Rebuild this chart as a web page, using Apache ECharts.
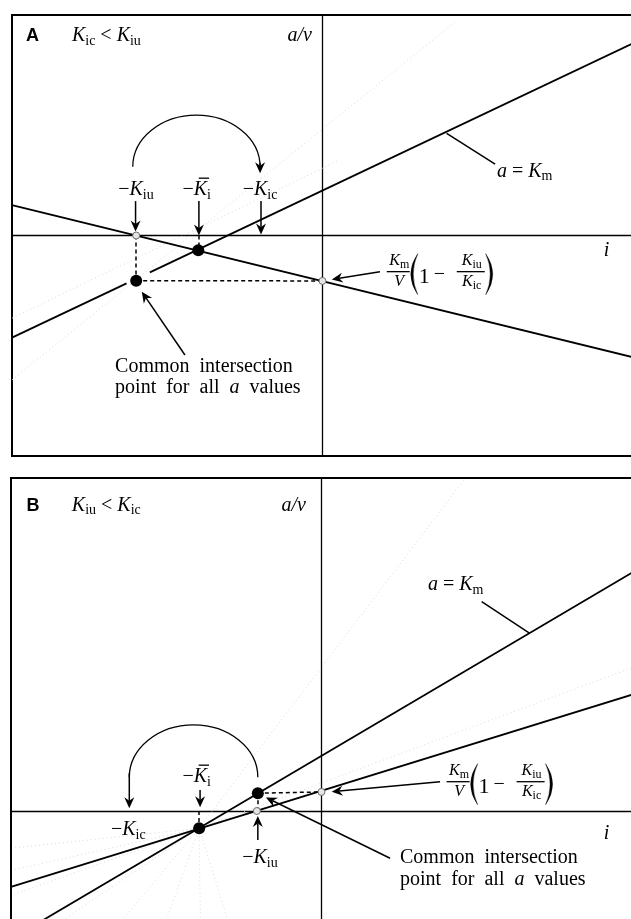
<!DOCTYPE html>
<html>
<head>
<meta charset="utf-8">
<title>a/v against i plots</title>
<script src="https://cdn.jsdelivr.net/npm/echarts@6.0.0/dist/echarts.min.js"></script>
<style>
  html, body { margin: 0; padding: 0; background: #fff; }
  #main { width: 631px; height: 919px; }
</style>
</head>
<body>
<div id="main"></div>
<script>
// ---- panel A : Kic < Kiu  (axis units, i across, a/v up) ----
var aKmLow = [[-10, -4.63], [-6.31, -2.17]];      // a = Km line, piece below the gap
var aKmHigh = [[-5.56, -1.67], [11, 9.38]];       // a = Km line, rest
var aOther = [[-10, 1.38], [11, -5.865]];
var aFaint = [[[-10, -6.55], [4.27, 9.68]], [[-10, -3.75], [0.56, 3.43]]];
var aDots = [[-4, -0.67], [-6, -2.05]];
var aOpen = [[-6, 0], [0, -2.06]];
var aDashed = [[[-6, 0], [-6, -2.05]], [[-6, -2.05], [0, -2.06]], [[-4, 0], [-4, -0.67]]];
var aLeader = [[[4.0, 4.63], [5.56, 3.24]]];
var aArrows = [
  [-6.02, 1.56, -6.02, 0.18], [-3.98, 1.56, -3.98, 0.0], [-1.98, 1.56, -1.98, 0.05],
  [1.85, -1.64, 0.30, -1.99], [-4.43, -5.42, -5.82, -2.55]
];
var aArc = [[-4.06, 3.12, 2.05, 2.34, 1, 2.82]];   // cx, cy, rx, ry, arrow end (1 right, -1 left), tip y

// ---- panel B : Kiu < Kic ----
var bKm = [[-9.07, -5], [11, 11.56]];
var bOther = [[-10, -3.42], [11, 5.67]];
var bFaint = [
  [[-3.94, -0.78], [-9.95, -1.67]], [[-3.94, -0.78], [-9.95, -2.66]], [[-3.94, -0.78], [-9.95, -3.78]],
  [[-3.94, -0.78], [-8.41, -5]], [[-3.94, -0.78], [-6.47, -5]], [[-3.94, -0.78], [-5.02, -5]],
  [[-3.94, -0.78], [-3.9, -5]], [[-3.94, -0.78], [-3.0, -5]],
  [[-3.94, -0.78], [4.58, 14.9]], [[-3.94, -0.78], [9.98, 6.44]]
];
var bDots = [[-2.05, 0.8], [-3.94, -0.78]];
var bOpen = [[0, 0.86], [-2.08, 0]];
var bDashed = [[[-2.05, 0.8], [0, 0.86]], [[-2.05, 0.8], [-2.05, 0]], [[-3.94, 0], [-3.94, -0.78]]];
var bLeader = [[[5.16, 9.43], [6.71, 8.0]]];
var bArrows = [
  [-3.91, 0.95, -3.91, 0.17], [-2.05, -1.31, -2.05, -0.23],
  [3.82, 1.32, 0.33, 0.87], [2.21, -2.13, -1.79, 0.61]
];
var bArc = [[-4.12, 1.52, 2.07, 2.36, -1, 0.12]];

// text runs: [text, kind]
var aLabels = [
  {at: [-9.55, 8.78], align: 'left', parts: [['A', 'bold']]},
  {at: [-8.07, 8.74], align: 'left', parts: [['K', 'it'], ['ic', 'sub'], [' < ', 'rm'], ['K', 'it'], ['iu', 'sub']]},
  {at: [-0.34, 8.76], align: 'right', parts: [['a/v', 'it']]},
  {at: [-6.01, 1.75], align: 'center', parts: [['\u2212', 'rm'], ['K', 'it'], ['iu', 'sub']]},
  {at: [-4.05, 1.75], align: 'center', parts: [['\u2212', 'rm'], ['K', 'bar'], ['i', 'sub']]},
  {at: [-2.01, 1.75], align: 'center', parts: [['\u2212', 'rm'], ['K', 'it'], ['ic', 'sub']]},
  {at: [5.62, 2.59], align: 'left', parts: [['a', 'it'], [' = ', 'rm'], ['K', 'it'], ['m', 'sub']]},
  {at: [9.15, -1.02], align: 'center', parts: [['i', 'it']]},
  {at: [-6.68, -6.28], align: 'left', parts: [['Common  intersection', 'rm']]},
  {at: [-6.68, -7.23], align: 'left', parts: [['point  for  all  ', 'rm'], ['a', 'it'], ['  values', 'rm']]},
  {at: [2.07, -1.64], formula: true}
];
var bLabels = [
  {at: [-9.5, 13.45], align: 'left', parts: [['B', 'bold']]},
  {at: [-8.04, 13.45], align: 'left', parts: [['K', 'it'], ['iu', 'sub'], [' < ', 'rm'], ['K', 'it'], ['ic', 'sub']]},
  {at: [-0.5, 13.45], align: 'right', parts: [['a/v', 'it']]},
  {at: [-4.02, 1.22], align: 'center', parts: [['\u2212', 'rm'], ['K', 'bar'], ['i', 'sub']]},
  {at: [-6.22, -1.16], align: 'center', parts: [['\u2212', 'rm'], ['K', 'it'], ['ic', 'sub']]},
  {at: [-1.98, -2.43], align: 'center', parts: [['\u2212', 'rm'], ['K', 'it'], ['iu', 'sub']]},
  {at: [3.43, 9.88], align: 'left', parts: [['a', 'it'], [' = ', 'rm'], ['K', 'it'], ['m', 'sub']]},
  {at: [9.18, -1.31], align: 'center', parts: [['i', 'it']]},
  {at: [2.53, -2.43], align: 'left', parts: [['Common  intersection', 'rm']]},
  {at: [2.53, -3.39], align: 'left', parts: [['point  for  all  ', 'rm'], ['a', 'it'], ['  values', 'rm']]},
  {at: [4.03, 1.32], formula: true}
];

var SERIF = '"Liberation Serif", "Times New Roman", serif';
var SANS = '"Liberation Sans", Arial, sans-serif';
var KINDS = {
  rm:   {size: 20, style: 'normal', weight: 'normal', family: SERIF, dy: 0},
  it:   {size: 20, style: 'italic', weight: 'normal', family: SERIF, dy: 0},
  bar:  {size: 20, style: 'italic', weight: 'normal', family: SERIF, dy: 0, overline: true},
  sub:  {size: 14, style: 'normal', weight: 'normal', family: SERIF, dy: 3},
  bold: {size: 18, style: 'normal', weight: 'bold', family: SANS, dy: 0},
  fit:  {size: 16, style: 'italic', weight: 'normal', family: SERIF, dy: 0},
  fsub: {size: 12, style: 'normal', weight: 'normal', family: SERIF, dy: 2.5},
  one:  {size: 22, style: 'normal', weight: 'normal', family: SERIF, dy: 0}
};

var measureCtx = document.createElement('canvas').getContext('2d');
function fontStr(k) { return k.style + ' ' + k.weight + ' ' + k.size + 'px ' + k.family; }
function textWidth(t, k) { measureCtx.font = fontStr(k); return measureCtx.measureText(t).width; }

// lay a run of text parts out from an anchor at the baseline
function runElements(parts, x, y, align, out) {
  var widths = parts.map(function (p) { return textWidth(p[0], KINDS[p[1]]); });
  var total = widths.reduce(function (s, w) { return s + w; }, 0);
  var cx = align === 'center' ? x - total / 2 : (align === 'right' ? x - total : x);
  parts.forEach(function (p, i) {
    var k = KINDS[p[1]];
    out.push({
      type: 'text', x: cx, y: y + k.dy - 0.3375 * k.size,
      style: {text: p[0], font: fontStr(k), fill: '#000', align: 'left', verticalAlign: 'middle'}
    });
    if (k.overline) {
      var oy = y - 0.662 * k.size - 5.5;
      out.push({type: 'line', shape: {x1: cx + 5, y1: oy, x2: cx + widths[i] + 2, y2: oy},
        style: {stroke: '#000', lineWidth: 1.3}});
    }
    cx += widths[i];
  });
}

function paren(xe, xOuter, xInner, top, bottom, out) {
  var mid = (top + bottom) / 2;
  var d = 'M' + xe + ' ' + top + ' Q' + xOuter + ' ' + mid + ' ' + xe + ' ' + bottom +
    ' Q' + xInner + ' ' + mid + ' ' + xe + ' ' + top + ' Z';
  out.push({type: 'path', shape: {pathData: d}, style: {fill: '#000', stroke: '#000', lineWidth: 0.4}});
}

// Km/V (1 - Kiu/Kic), anchored at left end of first fraction bar
function formulaElements(x0, y0, out) {
  function frac(xl, xr, num, den) {
    out.push({type: 'line', shape: {x1: xl, y1: y0, x2: xr, y2: y0}, style: {stroke: '#000', lineWidth: 1.3}});
    runElements(num, (xl + xr) / 2 + 1, y0 - 5, 'center', out);
    runElements(den, (xl + xr) / 2 + 1, y0 + 15.5, 'center', out);
  }
  frac(x0, x0 + 23, [['K', 'fit'], ['m', 'fsub']], [['V', 'fit']]);
  paren(x0 + 31, x0 + 17, x0 + 22, y0 - 18, y0 + 23, out);
  runElements([['1', 'one']], x0 + 32, y0 + 13, 'left', out);
  runElements([['\u2212', 'rm']], x0 + 47, y0 + 10, 'left', out);
  frac(x0 + 70, x0 + 98, [['K', 'fit'], ['iu', 'fsub']], [['K', 'fit'], ['ic', 'fsub']]);
  paren(x0 + 99, x0 + 113, x0 + 108, y0 - 18, y0 + 23, out);
}

function arrowElements(a, b, out) {
  var dx = b[0] - a[0], dy = b[1] - a[1];
  var len = Math.sqrt(dx * dx + dy * dy) || 1;
  var ux = dx / len, uy = dy / len, nx = -uy, ny = ux;
  var L = 11, W = 5, N = 3.5;
  var bx = b[0] - ux * L, by = b[1] - uy * L;
  var mx = b[0] - ux * (L - N), my = b[1] - uy * (L - N);
  out.push({type: 'line', shape: {x1: a[0], y1: a[1], x2: mx, y2: my}, style: {stroke: '#000', lineWidth: 1.5}});
  out.push({type: 'polygon', shape: {points: [[b[0], b[1]], [bx + nx * W, by + ny * W], [mx, my], [bx - nx * W, by - ny * W]]},
    style: {fill: '#000'}});
}

function arrowSeries(gi, arrows) {
  return {
    type: 'custom', xAxisIndex: gi, yAxisIndex: gi, silent: true, z: 9,
    data: arrows, encode: {x: [0, 2], y: [1, 3]},
    renderItem: function (params, api) {
      var out = [];
      arrowElements(api.coord([api.value(0), api.value(1)]), api.coord([api.value(2), api.value(3)]), out);
      return {type: 'group', children: out};
    }
  };
}

function arcSeries(gi, arcs) {
  return {
    type: 'custom', xAxisIndex: gi, yAxisIndex: gi, silent: true, z: 9,
    data: arcs,
    renderItem: function (params, api) {
      var c = api.coord([api.value(0), api.value(1)]);
      var s = api.size([api.value(2), api.value(3)]);
      var side = api.value(4);
      var tip = api.coord([api.value(0) + side * api.value(2), api.value(5)]);
      var d = 'M' + (c[0] - s[0]) + ' ' + c[1] + ' A' + s[0] + ' ' + s[1] + ' 0 0 1 ' + (c[0] + s[0]) + ' ' + c[1];
      var out = [{type: 'path', shape: {pathData: d}, style: {stroke: '#000', lineWidth: 1.3, fill: 'none'}}];
      arrowElements([c[0] + side * s[0], c[1] - 4], tip, out);
      return {type: 'group', children: out};
    }
  };
}

function labelSeries(gi, labels) {
  return {
    type: 'custom', xAxisIndex: gi, yAxisIndex: gi, silent: true, z: 10,
    data: labels.map(function (l) { return l.at; }),
    renderItem: function (params, api) {
      var l = labels[params.dataIndex];
      var p = api.coord(l.at);
      var out = [];
      if (l.formula) formulaElements(p[0], p[1], out);
      else runElements(l.parts, p[0], p[1], l.align, out);
      return {type: 'group', children: out};
    }
  };
}

function lineSeries(gi, data) {
  return {type: 'line', xAxisIndex: gi, yAxisIndex: gi, data: data, symbol: 'none', silent: true, z: 3,
    lineStyle: {color: '#000', width: 1.8}};
}
function segSeries(gi, segs, style, z) {
  return {type: 'lines', coordinateSystem: 'cartesian2d', xAxisIndex: gi, yAxisIndex: gi, silent: true, z: z,
    data: segs.map(function (c) { return {coords: c}; }), lineStyle: style};
}
function dotSeries(gi, data) {
  return {type: 'scatter', xAxisIndex: gi, yAxisIndex: gi, data: data, symbolSize: 12, silent: true, z: 6,
    itemStyle: {color: '#000', opacity: 1}};
}
function openSeries(gi, data) {
  return {type: 'scatter', xAxisIndex: gi, yAxisIndex: gi, data: data, symbolSize: 7, silent: true, z: 7,
    itemStyle: {color: '#e4e4e4', borderColor: '#707070', borderWidth: 1, opacity: 1}};
}

function panelSeries(gi, lines, faint, dashed, leader, dots, open, arrows, arcs, labels) {
  var list = [segSeries(gi, faint, {color: '#dadada', width: 1, type: [1, 3], opacity: 1}, 1)];
  lines.forEach(function (l) { list.push(lineSeries(gi, l)); });
  list.push(segSeries(gi, dashed, {color: '#000', width: 1.5, type: [4, 3], opacity: 1}, 4));
  list.push(segSeries(gi, leader, {color: '#000', width: 1.5, opacity: 1}, 4));
  list.push(dotSeries(gi, dots), openSeries(gi, open), arrowSeries(gi, arrows), arcSeries(gi, arcs), labelSeries(gi, labels));
  return list;
}

function xAxisFor(gi) {
  return {gridIndex: gi, type: 'value', min: -10, max: 11,
    axisLine: {show: true, onZero: true, lineStyle: {color: '#000', width: 1.3}},
    axisTick: {show: false}, axisLabel: {show: false}, splitLine: {show: false}};
}
function yAxisFor(gi, min, max) {
  return {gridIndex: gi, type: 'value', min: min, max: max,
    axisLine: {show: true, onZero: true, lineStyle: {color: '#000', width: 1.3}},
    axisTick: {show: false}, axisLabel: {show: false}, splitLine: {show: false}};
}

var chart = echarts.init(document.getElementById('main'));
chart.setOption({
  animation: false,
  backgroundColor: '#fff',
  grid: [
    {left: 12, top: 15, width: 652, height: 441, show: true, borderColor: '#000', borderWidth: 2, outerBoundsMode: 'none'},
    {left: 11, top: 478, width: 652, height: 444, show: true, borderColor: '#000', borderWidth: 2, outerBoundsMode: 'none'}
  ],
  xAxis: [xAxisFor(0), xAxisFor(1)],
  yAxis: [yAxisFor(0, -10, 10), yAxisFor(1, -5, 15)],
  series: panelSeries(0, [aKmLow, aKmHigh, aOther], aFaint, aDashed, aLeader, aDots, aOpen, aArrows, aArc, aLabels)
    .concat(panelSeries(1, [bKm, bOther], bFaint, bDashed, bLeader, bDots, bOpen, bArrows, bArc, bLabels))
});
</script>
</body>
</html>
